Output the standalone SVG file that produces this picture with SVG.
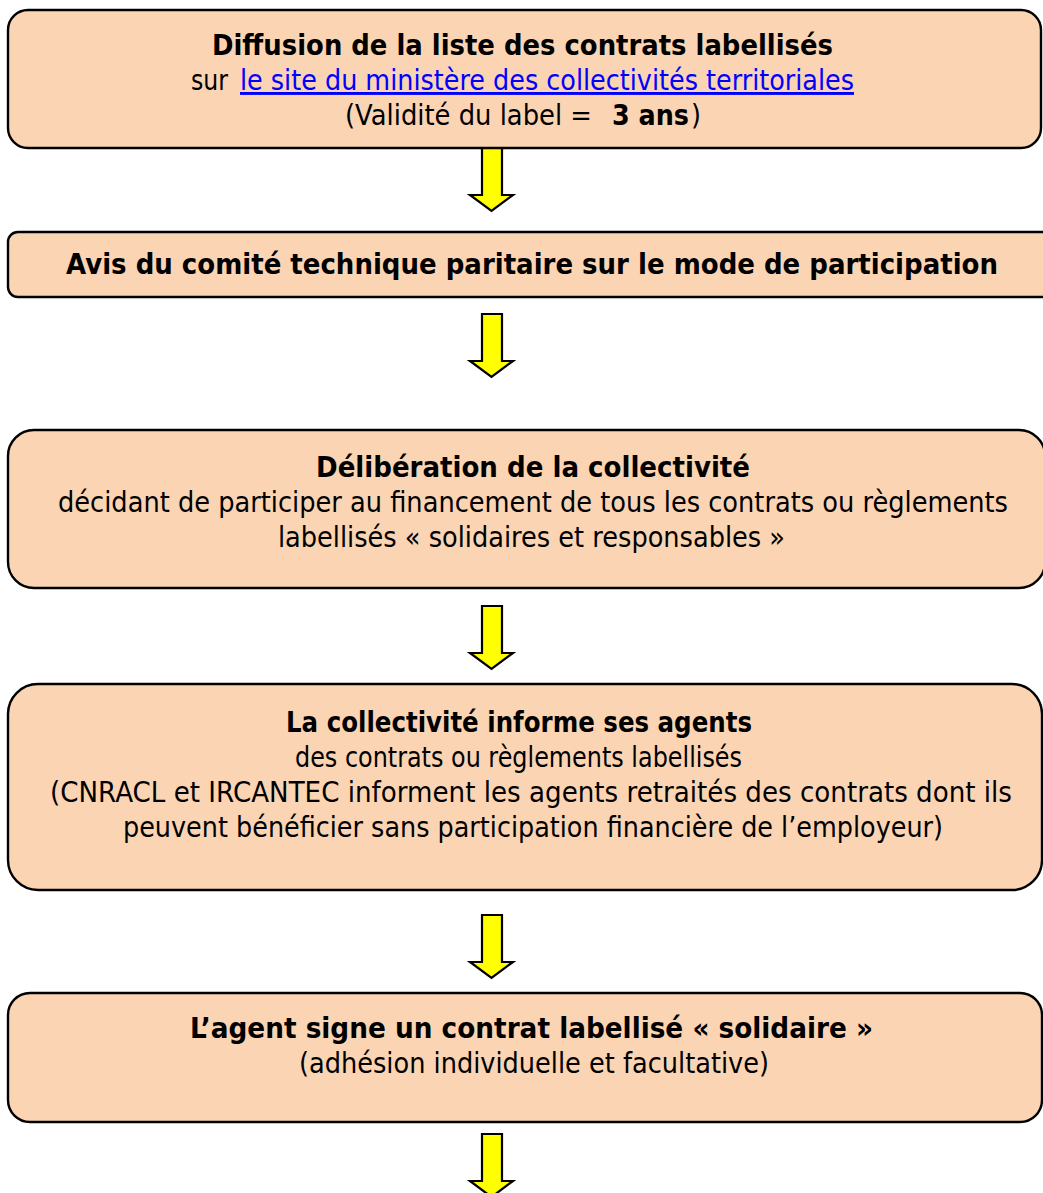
<svg xmlns="http://www.w3.org/2000/svg" width="1043" height="1193" viewBox="0 0 1043 1193">
<defs>
<style>
.box{fill:#FBD4B4;stroke:#000;stroke-width:2.4}
.arr{fill:#FFFF00;stroke:#000;stroke-width:2.2;stroke-linejoin:miter}
text{font-family:"DejaVu Sans","Liberation Sans",sans-serif;font-size:29px;fill:#000}
.b{font-weight:bold}
.link{fill:#0000FF;text-decoration:underline}
</style>
<path id="arrowShape" d="M482,0 H502 V47 H513 L491.5,63 L470,47 H482 Z"/>
</defs>
<rect width="1043" height="1193" fill="#fff"/>
<g id="connectors">
<use href="#arrowShape" class="arr" transform="translate(0,148)"/>
<use href="#arrowShape" class="arr" transform="translate(0,314)"/>
<use href="#arrowShape" class="arr" transform="translate(0,606)"/>
<use href="#arrowShape" class="arr" transform="translate(0,915)"/>
<use href="#arrowShape" class="arr" transform="translate(0,1134)"/>
</g>
<g id="node1">
<rect class="box" x="8" y="10" width="1033" height="138" rx="20" ry="20"/>
<text class="b" x="212" y="55" textLength="621" lengthAdjust="spacingAndGlyphs">Diffusion de la liste des contrats labellisés</text>
<text x="191" y="90" textLength="37" lengthAdjust="spacingAndGlyphs">sur</text>
<text class="link" x="240" y="90" textLength="614" lengthAdjust="spacingAndGlyphs">le site du ministère des collectivités territoriales</text>
<text x="345" y="125" textLength="247" lengthAdjust="spacingAndGlyphs">(Validité du label =</text>
<text class="b" x="612" y="125" textLength="77" lengthAdjust="spacingAndGlyphs">3 ans</text>
<text x="691" y="125" textLength="10" lengthAdjust="spacingAndGlyphs">)</text>
</g>
<g id="node2">
<rect class="box" x="8" y="232" width="1050" height="65" rx="10" ry="10"/>
<text class="b" x="66" y="274" textLength="932" lengthAdjust="spacingAndGlyphs">Avis du comité technique paritaire sur le mode de participation</text>
</g>
<g id="node3">
<rect class="box" x="8" y="430" width="1037" height="158" rx="26" ry="26"/>
<text class="b" x="316" y="477" textLength="434" lengthAdjust="spacingAndGlyphs">Délibération de la collectivité</text>
<text x="58" y="512" textLength="950" lengthAdjust="spacingAndGlyphs">décidant de participer au financement de tous les contrats ou règlements</text>
<text x="278" y="547" textLength="507" lengthAdjust="spacingAndGlyphs">labellisés « solidaires et responsables »</text>
</g>
<g id="node4">
<rect class="box" x="8" y="684" width="1034" height="206" rx="30" ry="30"/>
<text class="b" x="286" y="732" textLength="466" lengthAdjust="spacingAndGlyphs">La collectivité informe ses agents</text>
<text x="295" y="767" textLength="447" lengthAdjust="spacingAndGlyphs">des contrats ou règlements labellisés</text>
<text x="50" y="802" textLength="962" lengthAdjust="spacingAndGlyphs">(CNRACL et IRCANTEC informent les agents retraités des contrats dont ils</text>
<text x="123" y="837" textLength="820" lengthAdjust="spacingAndGlyphs">peuvent bénéficier sans participation financière de l’employeur)</text>
</g>
<g id="node5">
<rect class="box" x="8" y="993" width="1034" height="129" rx="22" ry="22"/>
<text class="b" x="190" y="1038" textLength="683" lengthAdjust="spacingAndGlyphs">L’agent signe un contrat labellisé « solidaire »</text>
<text x="299" y="1073" textLength="470" lengthAdjust="spacingAndGlyphs">(adhésion individuelle et facultative)</text>
</g>
</svg>
